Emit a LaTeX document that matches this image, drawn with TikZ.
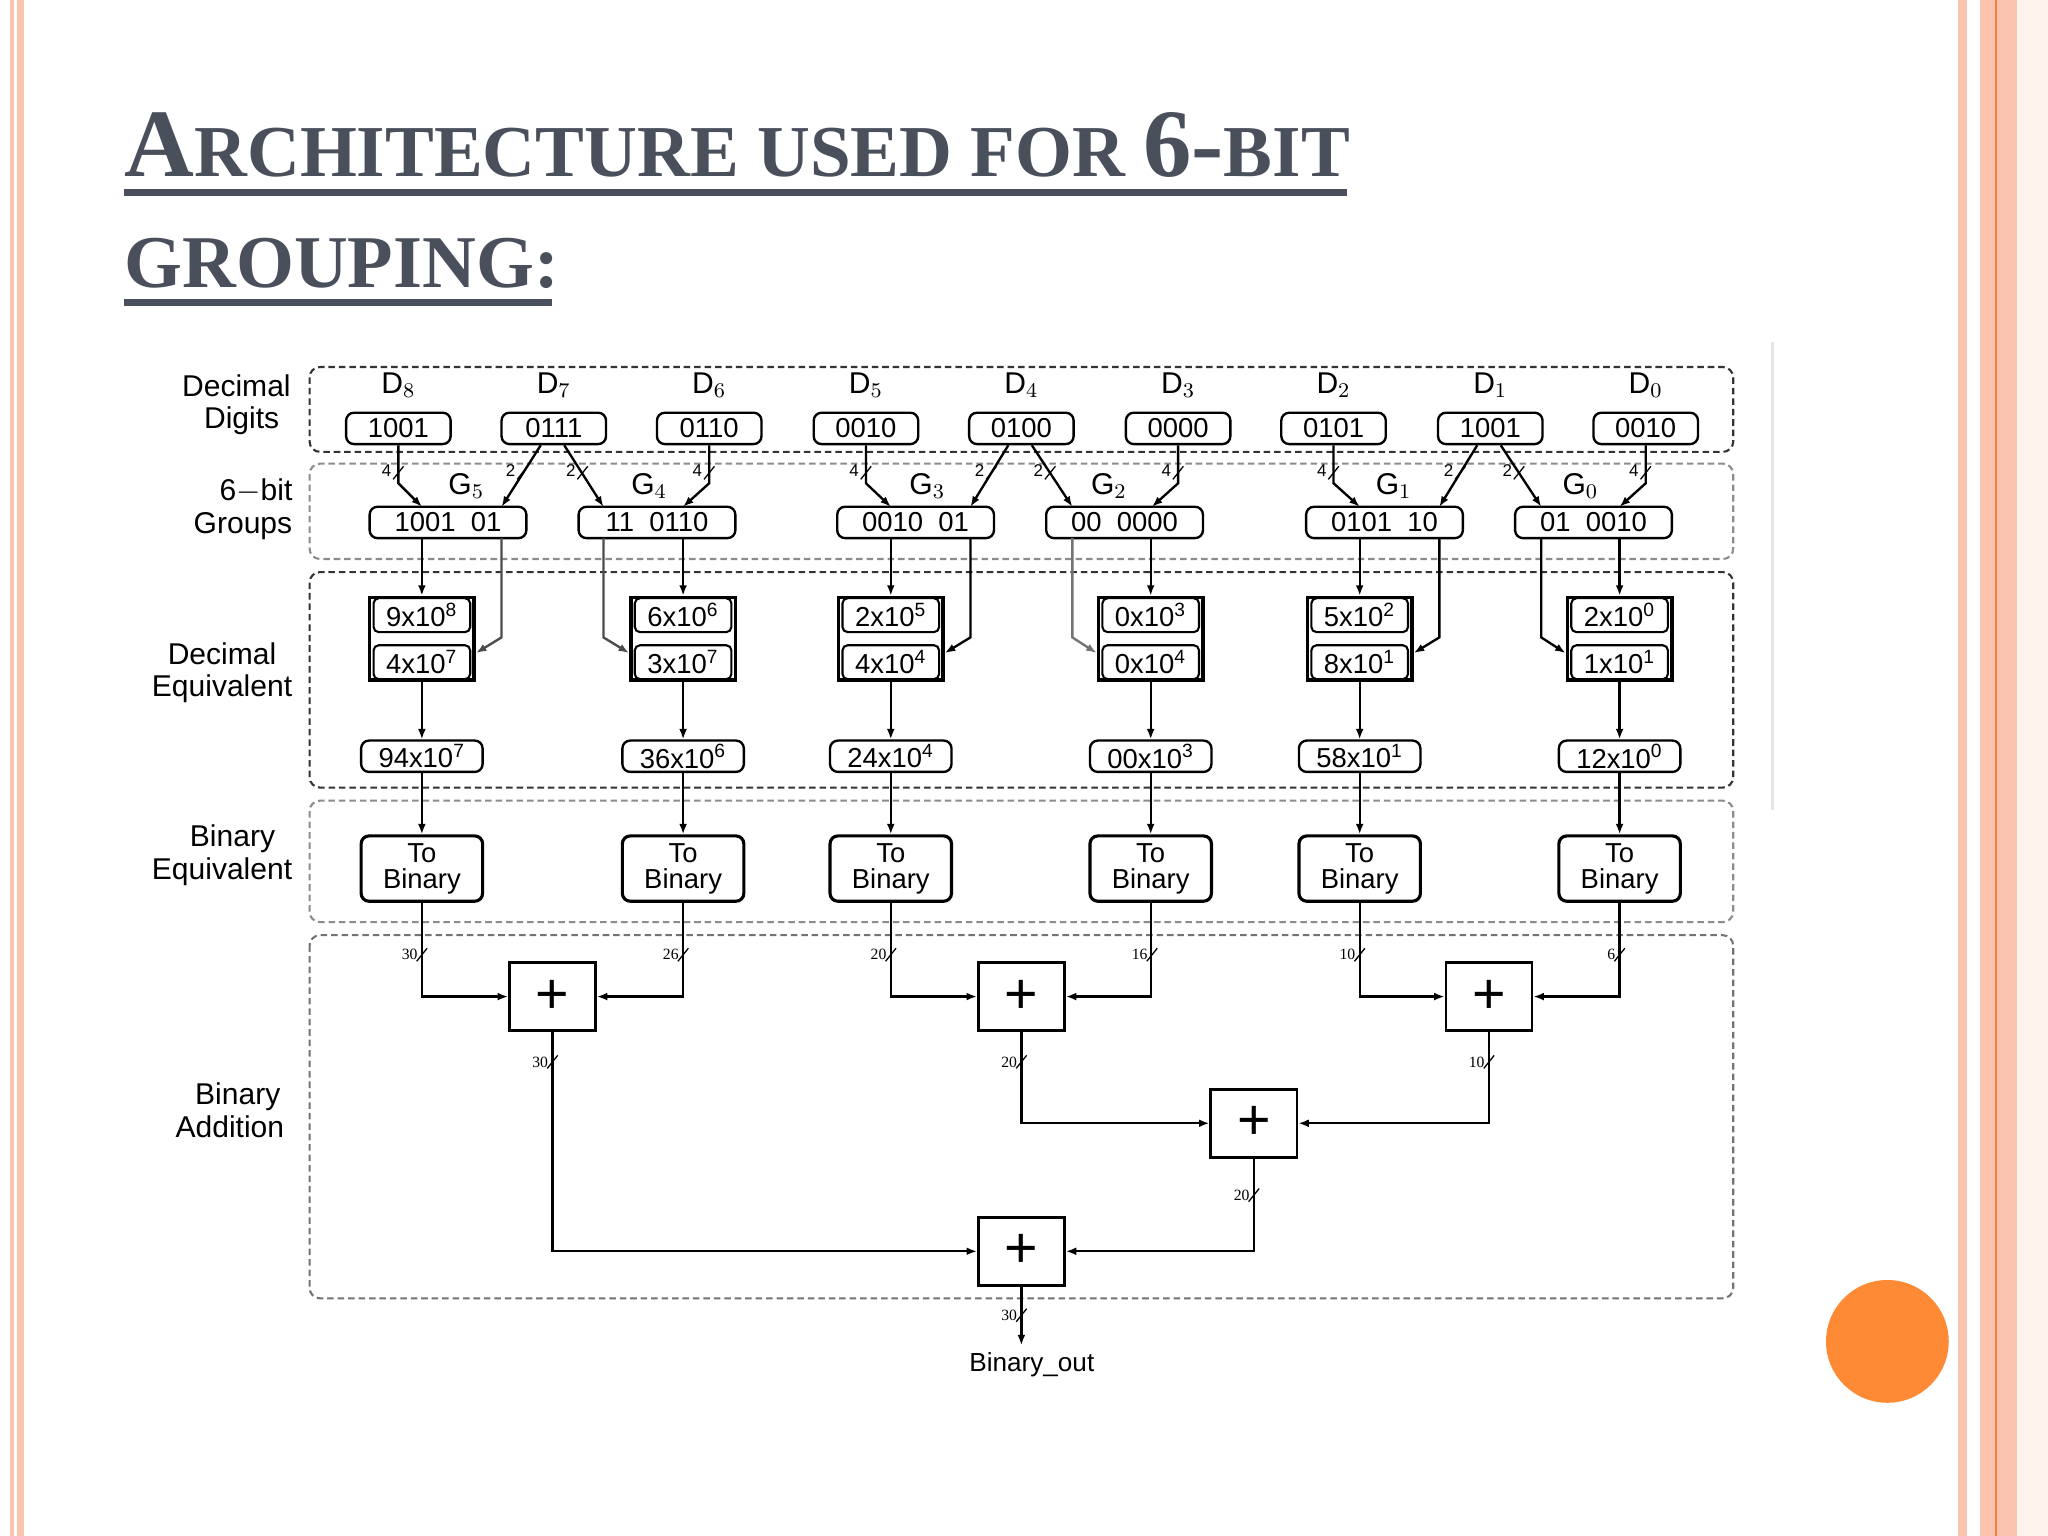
\documentclass[tikz,border=0pt]{standalone}
\usepackage{fontspec}
\setmainfont{Liberation Serif}
\setsansfont{Liberation Sans}
\usetikzlibrary{arrows.meta,calc}
\definecolor{titlec}{HTML}{4A4F5C}
\definecolor{pinkA}{HTML}{FBC4B0}
\definecolor{pinkB}{HTML}{F9C9B6}
\definecolor{oline}{HTML}{F0803C}
\definecolor{orb}{HTML}{FF8A36}
\newcommand\bustick[3]{\draw[line width=0.5pt] (#1-4,#2+5) -- (#1+4,#2-5); \node[buslbl,anchor=east] at (#1-2,#2) {#3};}
\begin{document}
\begin{tikzpicture}[x=0.5pt,y=-0.5pt,
  region/.style={draw=black!80, dashed, dash pattern=on 2.5pt off 1.5pt, rounded corners=4pt, line width=0.8pt},
  dig/.style={draw, rounded corners=3pt, line width=0.9pt, minimum width=40pt, minimum height=12pt, inner sep=0pt, font=\sffamily\fontsize{10.5}{11}\selectfont},
  grp/.style={dig, minimum width=60pt},
  dl/.style={font=\sffamily\fontsize{11.5}{12}\selectfont},
  lbl/.style={font=\sffamily\fontsize{11.5}{12.5}\selectfont, align=center},
  eqb/.style={draw, line width=1.4pt, minimum width=40pt, minimum height=31.5pt, inner sep=0pt},
  row/.style={draw, rounded corners=2pt, line width=0.8pt, minimum width=37pt, minimum height=13pt, inner sep=0pt, font=\sffamily\fontsize{10.5}{11}\selectfont},
  sum/.style={dig, minimum width=46.5pt},
  tob/.style={draw, rounded corners=3pt, line width=1.2pt, minimum width=46.5pt, minimum height=25pt, inner sep=0pt, align=center, font=\sffamily\fontsize{10.5}{10}\selectfont},
  add/.style={draw, line width=1pt, minimum width=33pt, minimum height=26pt, inner sep=0pt, font=\sffamily\fontsize{22}{22}\selectfont},
  w/.style={line width=0.9pt},
  ar/.style={w, -{Latex[length=4pt,width=3pt]}},
  buslbl/.style={font=\fontsize{6}{6}\selectfont, inner sep=0.5pt},
  gl/.style={font=\sffamily\fontsize{11.5}{12}\selectfont}
]
\useasboundingbox (0,0) rectangle (1568,1176);
\fill[white] (0,0) rectangle (1568,1176);
% slide decoration
\fill[pinkA] (8,0) rectangle (11,1176);
\fill[pinkA] (13,0) rectangle (18,1176);
\fill[pinkA] (1499,0) rectangle (1506,1176);
\fill[pinkA] (1516,0) rectangle (1568,1176);
\fill[pinkB!90!orange!20] (1544,0) rectangle (1568,1176);
\draw[oline, line width=0.8pt] (1528,0) -- (1528,1176);
\fill[orb] (1445,1027) circle (47);
\draw[black!10, line width=1pt] (1357,262) -- (1357,620);
% title
\node[anchor=base west, text=titlec, font=\bfseries, inner sep=0] (t1) at (95,135)
  {\fontsize{37}{40}\selectfont A\fontsize{28}{30}\selectfont RCHITECTURE USED FOR \fontsize{37}{40}\selectfont 6-\fontsize{28}{30}\selectfont BIT};
\node[anchor=base west, text=titlec, font=\bfseries, inner sep=0] (t2) at (95,220)
  {\fontsize{28.5}{30}\selectfont GROUPING:};
\fill[titlec] (95,145) rectangle (1031,150);
\fill[titlec] (95,229) rectangle (423,234);
% regions
\draw[region] (237,281) rectangle (1327,346);
\draw[region, black!45] (237,355) rectangle (1327,428);
\draw[region] (237,438) rectangle (1327,603);
\draw[region, black!45] (237,613) rectangle (1327,706);
\draw[region, black!55] (237,716) rectangle (1327,994);
% left labels
\node[lbl] (L1) at (181,310) {Decimal\\\hspace*{4pt}Digits};
\node[lbl] (L2) at (186,390) {\hspace*{10pt}6$-$bit\\Groups};
\node[lbl] (L3) at (170,515) {Decimal\\Equivalent};
\node[lbl] (L4) at (170,655) {\hspace*{8pt}Binary\\Equivalent};
\node[lbl] (L5) at (176,850) {\hspace*{6pt}Binary\\Addition};
% digits
\foreach \n/\x/\v in {8/305/1001,7/424/0111,6/543/0110,5/663/0010,4/782/0100,3/902/0000,2/1021/0101,1/1141/1001,0/1260/0010}{
  \node[dl] (dl\n) at (\x,295) {D$_{\n}$};
  \node[dig] (d\n) at (\x,328) {\v};
}
% groups
\foreach \n/\x/\v/\gx in {5/343/{1001\ \ 01}/357,4/503/{11\ \ 0110}/497,3/701/{0010\ \ 01}/710,2/861/{00\ \ 0000}/849,1/1060/{0101\ \ 10}/1067,0/1220/{01\ \ 0010}/1210}{
  \node[gl] (gl\n) at (\gx,372) {G$_{\n}$};
  \node[grp] (g\n) at (\x,400) {\v};
}
% wires digits -> groups
\draw[ar] (d8.south) -- (305,370) -- (323,388);
\draw[ar] (d7.south -| 414,0) -- (384,388);
\draw[ar] (d7.south -| 432,0) -- (462,388);
\draw[ar] (d6.south) -- (543,370) -- (523,388);
\draw[ar] (d5.south) -- (663,370) -- (682,388);
\draw[ar] (d4.south -| 772,0) -- (743,388);
\draw[ar] (d4.south -| 790,0) -- (821,388);
\draw[ar] (d3.south) -- (902,370) -- (882,388);
\draw[ar] (d2.south) -- (1021,370) -- (1041,388);
\draw[ar] (d1.south -| 1131,0) -- (1102,388);
\draw[ar] (d1.south -| 1149,0) -- (1180,388);
\draw[ar] (d0.south) -- (1260,370) -- (1240,388);
\foreach \x/\l in {305/4,400/2,446/2,543/4,663/4,759/2,804/2,902/4,1021/4,1118/2,1163/2,1260/4}{
  \draw[line width=0.5pt] (\x-4,367) -- (\x+4,357);
  \node[anchor=east, inner sep=0.5pt, font=\sffamily\fontsize{6.5}{6}\selectfont] at (\x-4,360) {\l};
}
% decimal equivalent
\foreach \n/\x/\a/\b/\s in {5/323/9x10\textsuperscript{8}/4x10\textsuperscript{7}/94x10\textsuperscript{7},
  4/523/6x10\textsuperscript{6}/3x10\textsuperscript{7}/36x10\textsuperscript{6},
  3/682/2x10\textsuperscript{5}/4x10\textsuperscript{4}/24x10\textsuperscript{4},
  2/881/0x10\textsuperscript{3}/0x10\textsuperscript{4}/00x10\textsuperscript{3},
  1/1041/5x10\textsuperscript{2}/8x10\textsuperscript{1}/58x10\textsuperscript{1},
  0/1240/2x10\textsuperscript{0}/1x10\textsuperscript{1}/12x10\textsuperscript{0}}{
  \node[eqb] (e\n) at (\x,489) {};
  \node[row] (ea\n) at (\x,471) {\a};
  \node[row] (eb\n) at (\x,507) {\b};
  \node[sum] (s\n) at (\x,579) {\s};
  \node[tob] (b\n) at (\x,665) {To\\Binary};
  \draw[ar] (g\n.south -| e\n.north) -- (e\n.north);
  \draw[ar] (e\n.south) -- (s\n.north);
  \draw[ar] (s\n.south) -- (b\n.north);
}
\draw[ar, black!70] (384,412) -- (384,488) -- (e5.east |- 0,500);
\draw[ar, black!70] (462,412) -- (462,488) -- (e4.west |- 0,500);
\draw[ar] (743,412) -- (743,488) -- (e3.east |- 0,500);
\draw[ar, black!55] (821,412) -- (821,488) -- (e2.west |- 0,500);
\draw[ar] (1102,412) -- (1102,488) -- (e1.east |- 0,500);
\draw[ar] (1180,412) -- (1180,488) -- (e0.west |- 0,500);
% adders
\node[add] (a1) at (423,763) {+};
\node[add] (a2) at (782,763) {+};
\node[add] (a3) at (1140,763) {+};
\node[add] (a4) at (960,860) {+};
\node[add] (a5) at (782,958) {+};
\coordinate (out) at (782,1030);
\node[font=\sffamily\fontsize{10}{10}\selectfont] (bo) at (790,1045) {Binary\_out};
\draw[ar] (b5.south) |- (a1.west);
\draw[ar] (b4.south) |- (a1.east);
\draw[ar] (b3.south) |- (a2.west);
\draw[ar] (b2.south) |- (a2.east);
\draw[ar] (b1.south) |- (a3.west);
\draw[ar] (b0.south) |- (a3.east);
\draw[ar] (a2.south) |- (a4.west);
\draw[ar] (a3.south) |- (a4.east);
\draw[ar] (a1.south) |- (a5.west);
\draw[ar] (a4.south) |- (a5.east);
\draw[ar] (a5.south) -- (out);
\bustick{323}{731}{30}
\bustick{523}{731}{26}
\bustick{682}{731}{20}
\bustick{882}{731}{16}
\bustick{1041}{731}{10}
\bustick{1240}{731}{6}
\bustick{423}{813}{30}
\bustick{782}{813}{20}
\bustick{1140}{813}{10}
\bustick{960}{915}{20}
\bustick{782}{1007}{30}
\end{tikzpicture}
\end{document}
